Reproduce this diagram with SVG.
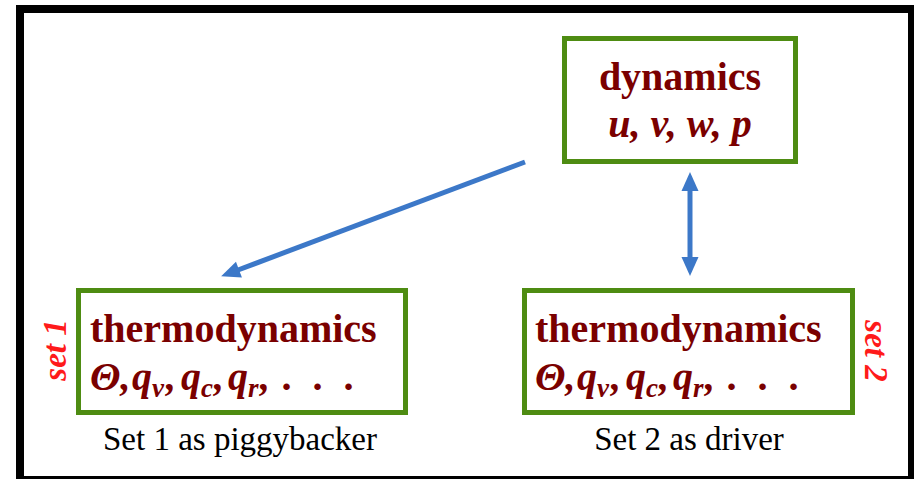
<svg xmlns="http://www.w3.org/2000/svg" width="914" height="479" viewBox="0 0 914 479">
  <defs>
    <style>
      .box { fill: #ffffff; stroke: #4e8c12; stroke-width: 5; }
      .title { font-family: "Liberation Serif", "Times New Roman", serif; font-weight: bold; font-size: 40px; fill: #7a0000; }
      .vars { font-family: "Liberation Serif", "Times New Roman", serif; font-weight: bold; font-style: italic; font-size: 40px; fill: #7a0000; }
      .sub { font-size: 27px; }
      .caption { font-family: "Liberation Serif", "Times New Roman", serif; font-size: 33px; fill: #000000; }
      .setlabel { font-family: "Liberation Serif", "Times New Roman", serif; font-weight: bold; font-style: italic; font-size: 33px; fill: #ff1a1a; }
      .link { fill: none; stroke: #3c78c8; stroke-width: 5; }
    </style>
    <marker id="head" viewBox="0 -9 20 18" markerWidth="20" markerHeight="18" refX="0" refY="0" markerUnits="userSpaceOnUse" orient="auto-start-reverse" overflow="visible">
      <path d="M-1,-8.5 L18,0 L-1,8.5 Z" fill="#3c78c8"/>
    </marker>
  </defs>

  <rect width="914" height="479" fill="#ffffff"/>
  <!-- outer frame -->
  <rect x="20" y="9" width="892" height="471" fill="none" stroke="#000000" stroke-width="8"/>

  <g id="dynamics">
    <rect class="box" x="564.5" y="38.5" width="231" height="123"/>
    <text class="title" x="680" y="90" text-anchor="middle">dynamics</text>
    <text class="vars" x="680" y="137" text-anchor="middle">u, v, w, p</text>
  </g>

  <g id="set1">
    <rect class="box" x="78.5" y="290.5" width="327" height="122"/>
    <text class="title" x="90" y="342">thermodynamics</text>
    <!-- Θ, q_v, q_c, q_r, ... with hand-set spacing -->
    <text class="vars" x="90" y="390">Θ,<tspan x="132">q</tspan><tspan class="sub" x="152" dy="7">v</tspan><tspan x="166" dy="-7">,</tspan><tspan x="181">q</tspan><tspan class="sub" x="201" dy="7">c</tspan><tspan x="214" dy="-7">,</tspan><tspan x="228">q</tspan><tspan class="sub" x="248" dy="7">r</tspan><tspan x="260" dy="-7">,</tspan><tspan x="283">.</tspan><tspan x="314">.</tspan><tspan x="345">.</tspan></text>
    <text class="caption" x="240" y="450" text-anchor="middle">Set 1 as piggybacker</text>
    <text class="setlabel" transform="translate(66,350) rotate(-90)" text-anchor="middle">set 1</text>
  </g>

  <g id="set2">
    <rect class="box" x="524.5" y="290.5" width="328" height="122"/>
    <text class="title" x="535" y="342">thermodynamics</text>
    <text class="vars" x="535" y="390">Θ,<tspan x="577">q</tspan><tspan class="sub" x="597" dy="7">v</tspan><tspan x="611" dy="-7">,</tspan><tspan x="626">q</tspan><tspan class="sub" x="646" dy="7">c</tspan><tspan x="659" dy="-7">,</tspan><tspan x="673">q</tspan><tspan class="sub" x="693" dy="7">r</tspan><tspan x="705" dy="-7">,</tspan><tspan x="728">.</tspan><tspan x="759">.</tspan><tspan x="790">.</tspan></text>
    <text class="caption" x="689" y="450" text-anchor="middle">Set 2 as driver</text>
    <text class="setlabel" transform="translate(865,351) rotate(90)" text-anchor="middle">set 2</text>
  </g>

  <g id="connectors">
    <line class="link" x1="525" y1="162" x2="238" y2="270" marker-end="url(#head)"/>
    <line class="link" x1="690" y1="190" x2="690" y2="258" marker-start="url(#head)" marker-end="url(#head)"/>
  </g>
</svg>
